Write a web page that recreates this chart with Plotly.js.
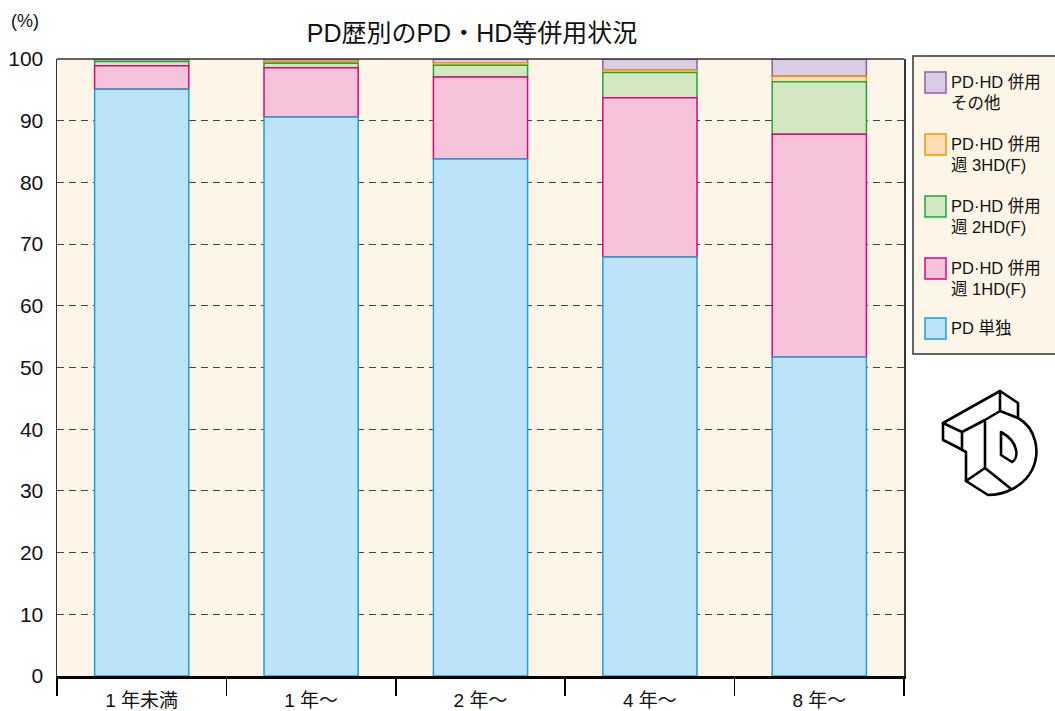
<!DOCTYPE html>
<html><head><meta charset="utf-8">
<script src="https://cdn.plot.ly/plotly-3.0.1.min.js"></script>
<style>body{margin:0;background:#fff}#chart{width:1055px;height:711px}</style>
</head><body><div id="chart"></div>
<script>
const categories = ["1 年未満", "1 年〜", "2 年〜", "4 年〜", "8 年〜"];
const pdOnly   = [95.1, 90.6, 83.8, 67.9, 51.7];
const hd1      = [3.8, 8.0, 13.3, 25.8, 36.1];
const hd2      = [0.7, 0.7, 1.9, 4.1, 8.5];
const hd3      = [0.0, 0.3, 0.4, 0.4, 0.9];
const others   = [0.4, 0.4, 0.6, 1.8, 2.8];
const seriesNames = ["PD 単独", "PD·HD 併用<br>週 1HD(F)", "PD·HD 併用<br>週 2HD(F)", "PD·HD 併用<br>週 3HD(F)", "PD·HD 併用<br>その他"];
const yTicks = [0,10,20,30,40,50,60,70,80,90,100];

const fills = ["#bce3f7", "#f5c4da", "#d3e7c3", "#fddcb6", "#d9cde6"];
const lines = ["#1aa0e0", "#e4007f", "#1aaa3c", "#f39800", "#8f5fa0"];
const vals = [pdOnly, hd1, hd2, hd3, others];

// bases = cumulative sums of lower series
const bases = vals.map((v, i) => v.map((_, j) => vals.slice(0, i).reduce((s, a) => s + a[j], 0)));

// draw top series first so the lower segment's border sits on top (as in the reference)
const data = [];
for (let i = vals.length - 1; i >= 0; i--) {
  data.push({
    type: "bar", x: categories, y: vals[i], base: bases[i], name: seriesNames[i],
    marker: {color: fills[i], line: {color: lines[i], width: 1.5}},
    showlegend: false, hoverinfo: "x+y+name"
  });
}

const L = 57, T = 59, PW = 847, PH = 617;
const px = x => (x - L) / PW;
const py = y => (T + PH - y) / PH;

const font = "Liberation Sans, Noto Sans CJK JP, sans-serif";

const logoSvg = '<svg xmlns="http://www.w3.org/2000/svg" viewBox="905 380 150 120" width="150" height="120">' +
 '<g fill="#fff" stroke="#000" stroke-width="2.6" stroke-linejoin="round" stroke-linecap="round">' +
 '<path d="M943,423 L1000,391 L1018,403 L1018,418 C1036,428 1041,452 1032,470 C1024,486 1005,495 988,495 L966,481 L966,452 L957,447 L943,440 Z"/>' +
 '<path fill="none" d="M943,423 L962,432 L985,420 M962,432 L962,448 M985,420 L985,468 L966,481 M985,468 L1010,488 M985,420 L1000,411 L1000,391 M1000,411 L1018,418"/>' +
 '<path d="M1001,432 L1001,455 L1012,462 C1019,458 1019,442 1001,432 Z"/>' +
 '</g></svg>';

// custom legend (top entry = top series)
const legTop = [72, 134, 196, 258, 318];
const shapes = [
  {type: "line", xref: "paper", yref: "paper", x0: 0, x1: 1, y0: 1, y1: 1, line: {color: "#333", width: 1.5}},
  {type: "rect", xref: "paper", yref: "paper", x0: px(913), x1: px(1062), y0: py(56), y1: py(354),
   fillcolor: "#fdf5e8", line: {color: "#333", width: 1.5}, layer: "above"}
];
const annotations = [
  {text: "(%)", xref: "paper", yref: "paper", x: px(25), y: py(21), xanchor: "center", yanchor: "middle",
   showarrow: false, font: {family: font, size: 18, color: "#111"}}
];
for (let k = 0; k < 5; k++) {
  const i = 4 - k;
  const t = legTop[k];
  shapes.push({type: "rect", xref: "paper", yref: "paper", x0: px(925), x1: px(946), y0: py(t), y1: py(t + 21),
    fillcolor: fills[i], line: {color: lines[i], width: 1.5}, layer: "above"});
  annotations.push({text: seriesNames[i], xref: "paper", yref: "paper", x: px(949), y: py(t - 1),
    xanchor: "left", yanchor: "top", align: "left", showarrow: false,
    font: {family: font, size: 16.5, color: "#111"}});
}

const layout = {
  width: 1055, height: 711,
  margin: {l: L, r: 1055 - L - PW, t: T, b: 711 - T - PH},
  paper_bgcolor: "#ffffff", plot_bgcolor: "#fdf5e8",
  font: {family: font, color: "#111", size: 16},
  barmode: "overlay", bargap: 0.444,
  title: {text: "PD歴別のPD・HD等併用状況", x: 472 / 1055, xanchor: "center", y: 1 - 33 / 711, yanchor: "middle",
          font: {family: font, size: 25, color: "#111"}},
  xaxis: {
    type: "category", tickson: "boundaries", ticks: "outside", ticklen: 17, tickwidth: 1.5, tickcolor: "#000",
    showline: true, linecolor: "#000", linewidth: 2.5, showgrid: false,
    tickfont: {family: font, size: 19, color: "#111"}, ticklabelstandoff: 6, fixedrange: true
  },
  yaxis: {
    range: [0, 100], tickvals: yTicks, ticktext: yTicks.map(String), ticks: "",
    showline: true, mirror: true, linecolor: "#333", linewidth: 1.5,
    showgrid: true, gridcolor: "#444", gridwidth: 1, griddash: "7px,5px",
    zeroline: false, tickfont: {family: font, size: 21, color: "#111"}, ticklabelstandoff: 8, fixedrange: true
  },
  shapes: shapes,
  annotations: annotations,
  images: [
    {source: "data:image/svg+xml;charset=utf-8," + encodeURIComponent(logoSvg),
     xref: "paper", yref: "paper", x: px(905), y: py(380),
     sizex: 150 / PW, sizey: 120 / PH, xanchor: "left", yanchor: "top", sizing: "stretch", layer: "above"}
  ],
  showlegend: false
};

Plotly.newPlot("chart", data, layout, {displayModeBar: false, staticPlot: true});
</script></body></html>
